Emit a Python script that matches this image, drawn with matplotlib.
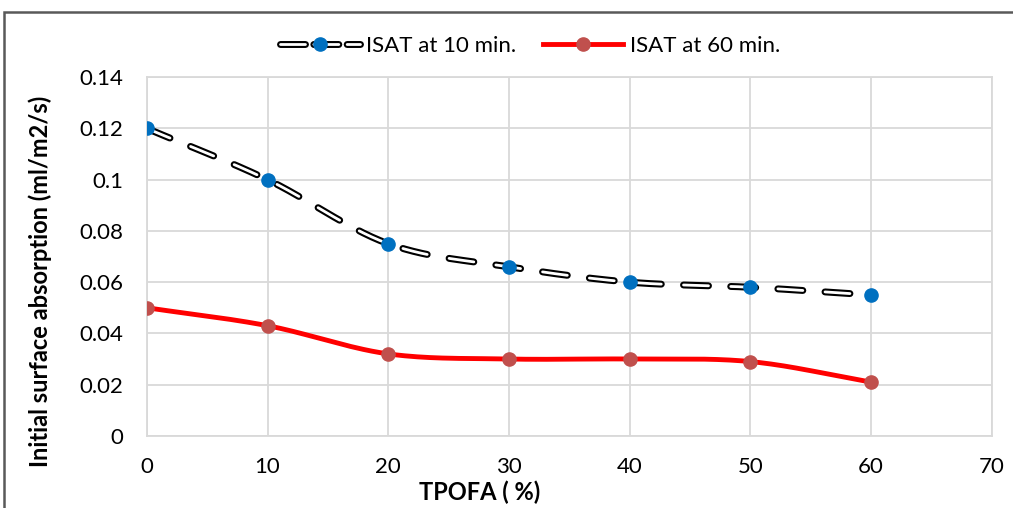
import numpy as np
import matplotlib.pyplot as plt
import matplotlib.patheffects as pe
from matplotlib.lines import Line2D
from matplotlib.legend_handler import HandlerTuple
from matplotlib.patches import Rectangle

# TPOFA replacement level (%) and initial surface absorption (ml/m2/s)
tpofa = [0, 10, 20, 30, 40, 50, 60]
isat_10 = [0.12, 0.10, 0.075, 0.066, 0.060, 0.058, 0.055]
isat_60 = [0.05, 0.043, 0.032, 0.030, 0.030, 0.029, 0.021]

x_ticks = [0, 10, 20, 30, 40, 50, 60, 70]
y_ticks = [0, 0.02, 0.04, 0.06, 0.08, 0.1, 0.12, 0.14]
y_tick_labels = ['0', '0.02', '0.04', '0.06', '0.08', '0.1', '0.12', '0.14']

plt.rcParams['font.family'] = ['Lato', 'DejaVu Sans']


def smooth(x, y, xr, yr, n=30):
    # Catmull-Rom curve through the points, computed in axis-normalised space
    px = np.asarray(x, float) / xr
    py = np.asarray(y, float) / yr
    P = np.column_stack([px, py])
    P = np.vstack([P[0] - (P[1] - P[0]), P, P[-1] + (P[-1] - P[-2])])
    out = []
    for i in range(1, len(P) - 2):
        p0, p1, p2, p3 = P[i - 1], P[i], P[i + 1], P[i + 2]
        t = np.linspace(0, 1, n)[:, None]
        seg = 0.5 * ((2 * p1) + (-p0 + p2) * t + (2 * p0 - 5 * p1 + 4 * p2 - p3) * t ** 2
                     + (-p0 + 3 * p1 - 3 * p2 + p3) * t ** 3)
        out.append(seg if i == 1 else seg[1:])
    out = np.vstack(out)
    return out[:, 0] * xr, out[:, 1] * yr


fig = plt.figure(figsize=(10.13, 5.08), dpi=100)
ax = fig.add_axes([0.145, 0.142, 0.834, 0.706])

grid_c = '#D9D9D9'
ax.set_xlim(0, 70)
ax.set_ylim(0, 0.14)
ax.set_xticks(x_ticks)
ax.set_yticks(y_ticks)
ax.set_yticklabels(y_tick_labels)
ax.grid(True, color=grid_c, linewidth=1.3)
ax.set_axisbelow(True)
for s in ax.spines.values():
    s.set_color(grid_c)
    s.set_linewidth(1.3)
ax.tick_params(length=0, labelsize=16, colors='#000000')
ax.tick_params(axis='y', pad=17)
ax.tick_params(axis='x', pad=15)

# 10 min series: black outlined dashes with a white core
hollow = [pe.Stroke(linewidth=5, foreground='black'), pe.Normal()]
dash = (9, 8)
sx, sy = smooth(tpofa, isat_10, 70, 0.14)
ax.plot(sx, sy, color='white', linewidth=2, dashes=dash,
        dash_capstyle='round', path_effects=hollow, zorder=3)
ax.plot(tpofa, isat_10, 'o', color='#0070C0', markersize=9.5, zorder=4)

# 60 min series
sx, sy = smooth(tpofa, isat_60, 70, 0.14)
ax.plot(sx, sy, color='#FF0000', linewidth=3.5, zorder=3)
ax.plot(tpofa, isat_60, 'o', color='#C0504D', markersize=9.5, zorder=4)

fig.text(480 / 1013, 1 - 492 / 508, 'TPOFA ( %)', fontsize=17,
         fontweight='bold', ha='center', va='center')
fig.text(40 / 1013, 1 - 281 / 508, 'Initial surface absorption (ml/m2/s)',
         fontsize=17, fontweight='bold', rotation=90, ha='center', va='center')

h1_line = Line2D([], [], color='white', linewidth=2, dashes=(9, 3),
                 dash_capstyle='round', path_effects=hollow)
h1_mark = Line2D([], [], linestyle='none', marker='o', markersize=9.5,
                 color='#0070C0')
h2 = Line2D([], [], color='#FF0000', linewidth=3.5, marker='o', markersize=9.5,
            markerfacecolor='#C0504D', markeredgecolor='#C0504D')
fig.legend([(h1_line, h1_mark), h2], ['ISAT at 10 min.', 'ISAT at 60 min.'],
           handler_map={tuple: HandlerTuple(ndivide=1)},
           loc='center', bbox_to_anchor=(530 / 1013, 1 - 46 / 508), ncol=2,
           frameon=False, fontsize=16, handlelength=3.6, handletextpad=0.3,
           columnspacing=1.2)

# outer chart frame
fig.patches.append(Rectangle((4 / 1013, -0.1), 1.2, 1 - 12 / 508 + 0.1,
                             transform=fig.transFigure, fill=False,
                             edgecolor='#595959', linewidth=1.8))

fig.savefig('out.png', dpi=100)
